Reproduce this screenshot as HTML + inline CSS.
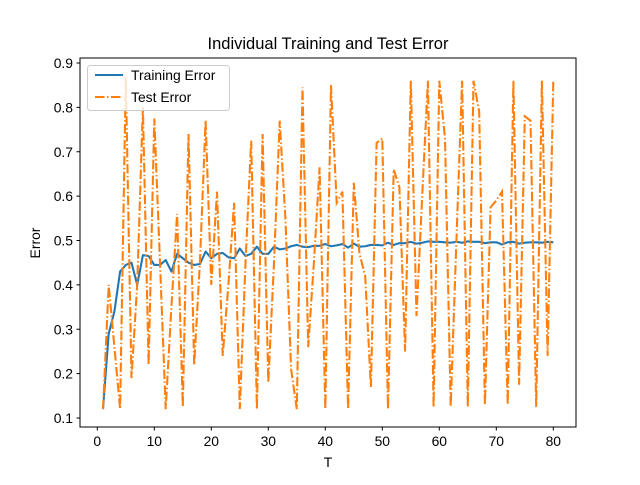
<!DOCTYPE html>
<html><head><meta charset="utf-8"><style>
body{margin:0;background:#fff;}
svg text{font-family:"Liberation Sans","DejaVu Sans",sans-serif;fill:#000;}
</style></head><body>
<svg id="chart" width="640" height="480" viewBox="0 0 640 480">
<rect x="0" y="0" width="640" height="480" fill="#fff"/>
<text x="328" y="49" font-size="16.5" text-anchor="middle">Individual Training and Test Error</text>
<g id="plot"></g>
<rect x="80" y="58" width="496" height="369" fill="none" stroke="#000" stroke-width="1"/>
<text x="328" y="467" font-size="13.9" text-anchor="middle">T</text>
<text x="40" y="243" font-size="13.9" text-anchor="middle" transform="rotate(-90 40 243)">Error</text>
<g>
<rect x="87.5" y="65.5" width="142" height="45" rx="3" fill="#fff" fill-opacity="0.8" stroke="#ccc"/>
<line x1="95" y1="75" x2="123" y2="75" stroke="#1f77b4" stroke-width="2"/>
<text x="131" y="80" font-size="13.9">Training Error</text>
<line x1="95" y1="97" x2="123" y2="97" stroke="#ff7f0e" stroke-width="2" stroke-dasharray="9.6,2.4,1.5,2.4"/>
<text x="131" y="102" font-size="13.9">Test Error</text>
</g>
</svg>
<script>
const xTicks=[0,10,20,30,40,50,60,70,80];
const yTicks=[0.1,0.2,0.3,0.4,0.5,0.6,0.7,0.8,0.9];
const yTickLabels=["0.1","0.2","0.3","0.4","0.5","0.6","0.7","0.8","0.9"];
const trainError=[0.12,0.29,0.34,0.43,0.445,0.45,0.40,0.467,0.465,0.445,0.445,0.456,0.43,0.47,0.46,0.45,0.445,0.447,0.475,0.46,0.47,0.472,0.462,0.46,0.482,0.465,0.47,0.486,0.47,0.47,0.486,0.48,0.482,0.487,0.49,0.486,0.485,0.488,0.488,0.492,0.487,0.489,0.492,0.484,0.493,0.486,0.487,0.49,0.49,0.489,0.495,0.49,0.494,0.494,0.497,0.493,0.495,0.498,0.497,0.497,0.496,0.495,0.497,0.495,0.498,0.497,0.497,0.494,0.496,0.496,0.491,0.496,0.497,0.493,0.495,0.496,0.496,0.495,0.497,0.496];
const testError=[0.12,0.40,0.26,0.12,0.868,0.19,0.40,0.80,0.22,0.775,0.45,0.12,0.35,0.56,0.125,0.74,0.22,0.45,0.77,0.40,0.61,0.24,0.40,0.585,0.12,0.45,0.725,0.12,0.74,0.18,0.45,0.77,0.55,0.21,0.12,0.845,0.26,0.45,0.665,0.12,0.85,0.585,0.61,0.12,0.63,0.47,0.42,0.17,0.72,0.73,0.12,0.66,0.62,0.25,0.86,0.33,0.6,0.86,0.125,0.86,0.73,0.125,0.5,0.86,0.125,0.86,0.79,0.13,0.575,0.59,0.61,0.13,0.86,0.175,0.78,0.77,0.125,0.86,0.24,0.86];
const svgNS="http://www.w3.org/2000/svg";
const plot=document.getElementById('plot');
function xs(t){return 97.3+5.70*t;}
function ys(v){return 418-(v-0.1)*443.75;}
function mk(tag,attrs){const e=document.createElementNS(svgNS,tag);for(const k in attrs)e.setAttribute(k,attrs[k]);return e;}
xTicks.forEach(t=>{
 const l=mk('line',{x1:xs(t),x2:xs(t),y1:427,y2:430.5,stroke:'#000','stroke-width':1});
 
 
 plot.appendChild(l);
 const tx=mk('text',{x:xs(t),y:446,'font-size':13.9,'text-anchor':'middle'});
 tx.textContent=String(t);
 
 
 plot.appendChild(tx);
});
yTicks.forEach((v,i)=>{
 const l=mk('line',{x1:76.5,x2:80,y1:ys(v),y2:ys(v),stroke:'#000','stroke-width':1});
 
 
 plot.appendChild(l);
 const tx=mk('text',{x:73,y:ys(v)+5,'font-size':13.9,'text-anchor':'end'});
 tx.textContent=yTickLabels[i];
 
 
 plot.appendChild(tx);
});
function pts(arr){return arr.map((v,i)=>xs(i+1).toFixed(2)+','+ys(v).toFixed(2)).join(' ');}
const tr=mk('polyline',{points:pts(trainError),fill:'none',stroke:'#1f77b4','stroke-width':2.08,'stroke-linejoin':'round'});


plot.appendChild(tr);
const te=mk('polyline',{points:pts(testError),fill:'none',stroke:'#ff7f0e','stroke-width':2.08,'stroke-dasharray':'9.6,2.4,1.5,2.4'});


plot.appendChild(te);
</script>
</body></html>
